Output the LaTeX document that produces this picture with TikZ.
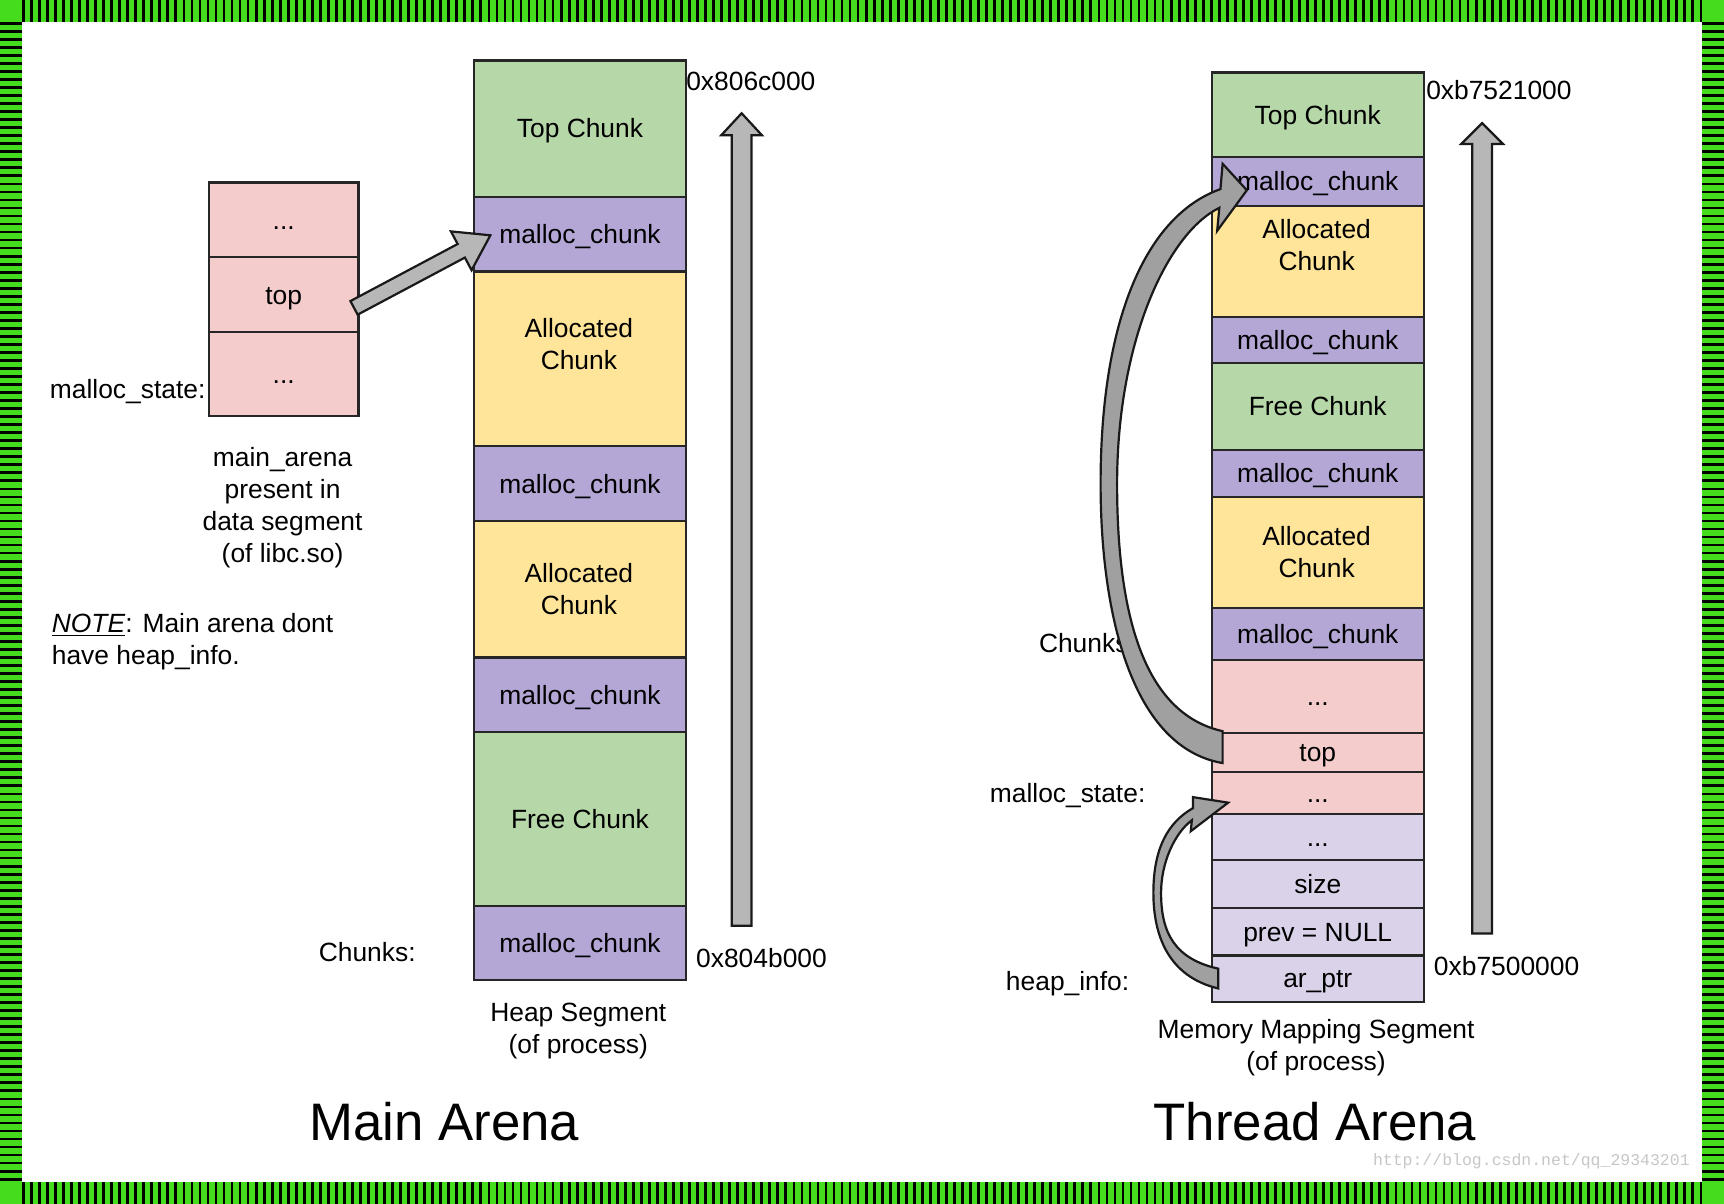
\documentclass[tikz,border=0pt]{standalone}
\usepackage{fontspec}
\setmainfont{Liberation Sans}
\newfontfamily\wmfont{Liberation Mono}
\usetikzlibrary{calc}
\definecolor{chunkgreen}{HTML}{B6D7A8}
\definecolor{chunkpurple}{HTML}{B4A7D6}
\definecolor{chunkyellow}{HTML}{FFE599}
\definecolor{statepink}{HTML}{F4CCCC}
\definecolor{heaplilac}{HTML}{D9D2E9}
\definecolor{framegreen}{RGB}{70,220,30}
\definecolor{arrowgray}{RGB}{183,183,183}
\definecolor{bentgray}{RGB}{160,160,160}
\tikzset{
  chunkcell/.style={draw=black!85, line width=2pt, minimum width=193pt,
    inner sep=0pt, anchor=north west, text height=22pt, text depth=5pt,
    font=\fontsize{24pt}{29pt}\selectfont},
  celltext/.style={inner sep=0pt, align=center,
    font=\fontsize{24pt}{29pt}\selectfont},
  lbl/.style={inner sep=0pt, font=\fontsize{24pt}{29pt}\selectfont},
  arenatitle/.style={inner sep=0pt, font=\fontsize{48pt}{56pt}\selectfont},
  fatarrow/.style={fill=arrowgray, draw=black!90, line width=2pt},
  bentarrow/.style={fill=bentgray, draw=black!90, line width=2pt},
  framestripes/.style={black, line width=20pt, dash pattern=on 2.5pt off 4.8pt},
}
\newcommand\blockarrow[5]{%
  \coordinate (ba-neck) at ($(#2)!#5!(#1)$);
  \filldraw[fatarrow] ($(#1)!#3!90:(#2)$)
    -- ($(ba-neck)!#3!-90:(#1)$)
    -- ($(ba-neck)!#4!-90:(#1)$)
    -- (#2)
    -- ($(ba-neck)!#4!90:(#1)$)
    -- ($(ba-neck)!#3!90:(#1)$)
    -- ($(#1)!#3!-90:(#2)$)
    -- cycle;}
\begin{document}
\begin{tikzpicture}[x=1pt, y=-1pt]
          \useasboundingbox (0,0) rectangle (1568,1095);
          \fill[framegreen] (0,0) rectangle (1568,1095);
          \fill[white] (20,20) rectangle (1548,1075);
          \draw[framestripes] (20,10) -- (1548,10);
          \draw[framestripes] (20,1085) -- (1548,1085);
          \draw[framestripes] (10,20) -- (10,1075);
          \draw[framestripes] (1558,20) -- (1558,1075);

          \node[chunkcell, fill=statepink, minimum width=136pt, minimum height=68pt] (msd1) at (189,165) {...};
          \node[chunkcell, fill=statepink, minimum width=136pt, minimum height=68pt] (mstop) at (189,233) {top};
          \node[chunkcell, fill=statepink, minimum width=136pt, minimum height=76pt] (msd2) at (189,301) {...};

          \node[chunkcell, fill=chunkgreen, minimum height=124pt] (ltop) at (430,54) {Top Chunk};
          \node[chunkcell, fill=chunkpurple, minimum height=68pt] (lmc1) at (430,178) {malloc\_chunk};
          \node[chunkcell, fill=chunkyellow, minimum height=159pt] (lal1) at (430,246) {};
          \node[chunkcell, fill=chunkpurple, minimum height=68pt] (lmc2) at (430,405) {malloc\_chunk};
          \node[chunkcell, fill=chunkyellow, minimum height=124pt] (lal2) at (430,473) {};
          \node[chunkcell, fill=chunkpurple, minimum height=68pt] (lmc3) at (430,597) {malloc\_chunk};
          \node[chunkcell, fill=chunkgreen, minimum height=158pt] (lfree) at (430,665) {Free Chunk};
          \node[chunkcell, fill=chunkpurple, minimum height=67pt] (lmc4) at (430,823) {malloc\_chunk};
          \node[celltext] (lal1t) at (526.5,313) {Allocated\\Chunk};
          \node[celltext] (lal2t) at (526.5,536) {Allocated\\Chunk};

          \node[chunkcell, fill=chunkgreen, minimum height=77pt] (rtop) at (1101,65) {Top Chunk};
          \node[chunkcell, fill=chunkpurple, minimum height=44pt] (rmc1) at (1101,142) {malloc\_chunk};
          \node[chunkcell, fill=chunkyellow, minimum height=101pt] (ral1) at (1101,186) {};
          \node[chunkcell, fill=chunkpurple, minimum height=42pt] (rmc2) at (1101,287) {malloc\_chunk};
          \node[chunkcell, fill=chunkgreen, minimum height=79pt] (rfree) at (1101,329) {Free Chunk};
          \node[chunkcell, fill=chunkpurple, minimum height=43pt] (rmc3) at (1101,408) {malloc\_chunk};
          \node[chunkcell, fill=chunkyellow, minimum height=101pt] (ral2) at (1101,451) {};
          \node[chunkcell, fill=chunkpurple, minimum height=47pt] (rmc4) at (1101,552) {malloc\_chunk};
          \node[chunkcell, fill=statepink, minimum height=67pt] (rdots1) at (1101,599) {...};
          \node[chunkcell, fill=statepink, minimum height=35pt] (rtopf) at (1101,666) {top};
          \node[chunkcell, fill=statepink, minimum height=38pt] (rdots2) at (1101,701) {...};
          \node[chunkcell, fill=heaplilac, minimum height=42pt] (hdots) at (1101,739) {...};
          \node[chunkcell, fill=heaplilac, minimum height=44pt] (hsize) at (1101,781) {size};
          \node[chunkcell, fill=heaplilac, minimum height=43pt] (hprev) at (1101,825) {prev = NULL};
          \node[chunkcell, fill=heaplilac, minimum height=42pt] (harp) at (1101,868) {ar\_ptr};
          \node[celltext] (ral1t) at (1197.5,223) {Allocated\\Chunk};
          \node[celltext] (ral2t) at (1197.5,502) {Allocated\\Chunk};

          \node[lbl, anchor=east] (lstate) at (187,356) {malloc\_state:};
          \node[lbl, align=center] (lwhere) at (257,462) {main\_arena\\present in\\data segment\\(of libc.so)};
          \node[lbl, align=left, anchor=west] (lnote) at (47,584) {\underline{\textit{NOTE}}: Main arena dont\\have heap\_info.};
          \node[lbl] (lchunks) at (334,866) {Chunks:};
          \node[lbl, align=center] (lseg) at (526,938) {Heap Segment\\(of process)};
          \node[arenatitle] (ltitle) at (404,1020) {Main Arena};
          \node[lbl, anchor=west] (lhi) at (624,74) {0x806c000};
          \node[lbl, anchor=west] (llo) at (633,871) {0x804b000};

          \node[lbl] (rchunks) at (989,585) {Chunks:};
          \node[lbl] (rstate) at (971,724) {malloc\_state:};
          \node[lbl] (rheap) at (971,895) {heap\_info:};
          \node[lbl, anchor=west] (rhi) at (1297,82) {0xb7521000};
          \node[lbl, anchor=west] (rlo) at (1304,879) {0xb7500000};
          \node[lbl, align=center] (rseg) at (1197,953) {Memory Mapping Segment\\(of process)};
          \node[arenatitle] (rtitle) at (1196,1020) {Thread Arena};
          \node[inner sep=0pt, anchor=east, text=black!22, font=\wmfont\fontsize{15pt}{18pt}\selectfont] (wmark) at (1537,1056) {http://blog.csdn.net/qq\_29343201};

          \coordinate (lgrow0) at (674.5,842);
          \coordinate (lgrow1) at (674.5,103);
          \coordinate (rgrow0) at (1348,849);
          \coordinate (rgrow1) at (1348,112);
          \blockarrow{lgrow0}{lgrow1}{9pt}{18.5pt}{20pt}
          \blockarrow{rgrow0}{rgrow1}{9pt}{19pt}{19pt}

          \coordinate (ptrtail) at ($(mstop.east)+(-5,12)$);
          \coordinate (ptrtip) at ($(lmc1.west)+(16,1)$);
          \blockarrow{ptrtail}{ptrtip}{7pt}{20pt}{30pt}

          \filldraw[bentarrow] ($(rtopf.west)+(11,9.5)$)
            .. controls (1030,680) and (1001,560) .. (1001,440)
            .. controls (1001,285) and (1045,195) .. ($(rmc1.west)+(9,7)$)
            -- ($(rmc1.west)+(11,-16)$)
            -- ($(rmc1.west)+(33,8)$)
            -- ($(rmc1.west)+(6,45)$)
            -- ($(rmc1.west)+(8,24)$)
            .. controls (1062,212) and (1016,310) .. (1016,440)
            .. controls (1016,570) and (1045,650) .. ($(rtopf.west)+(11,-19.5)$)
            -- cycle;

          \filldraw[bentarrow] ($(harp.west)+(7,9)$)
            .. controls (1062,888) and (1049,850) .. (1049,812)
            .. controls (1049,772) and (1062,748) .. ($(rdots2.west)+(-16,14)$)
            -- ($(rdots2.west)+(-16,4)$)
            -- ($(rdots2.west)+(16,9)$)
            -- ($(rdots2.west)+(-18,35)$)
            -- ($(rdots2.west)+(-17,25)$)
            .. controls (1068,758) and (1056,785) .. (1056,812)
            .. controls (1056,848) and (1068,872) .. ($(harp.west)+(7,-9)$)
            -- cycle;
        \end{tikzpicture}
\end{document}
